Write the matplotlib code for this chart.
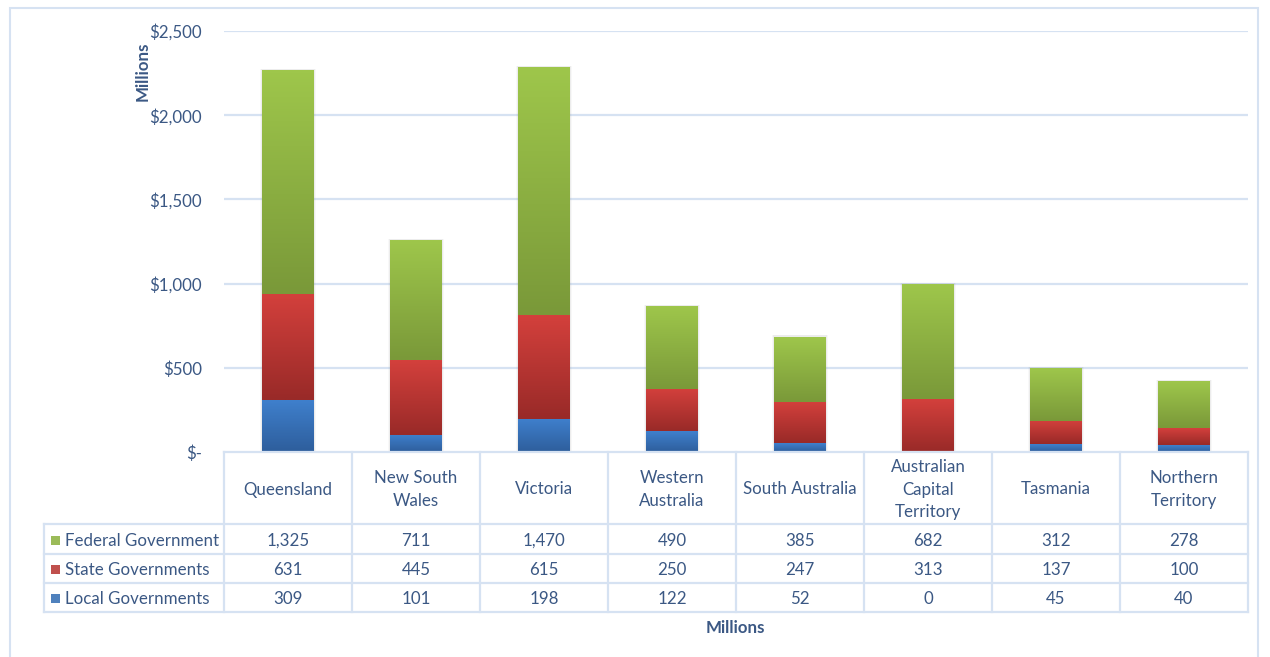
import numpy as np
import matplotlib
matplotlib.use("Agg")
import matplotlib.pyplot as plt
from matplotlib.colors import LinearSegmentedColormap
from matplotlib.patches import Rectangle

plt.rcParams['font.family'] = ['Lato', 'DejaVu Sans']

# data
categories = ["Queensland", "New South Wales", "Victoria", "Western Australia",
              "South Australia", "Australian Capital Territory", "Tasmania",
              "Northern Territory"]
header_labels = ["Queensland", "New South\nWales", "Victoria", "Western\nAustralia",
                 "South Australia", "Australian\nCapital\nTerritory", "Tasmania",
                 "Northern\nTerritory"]
series_names = ["Federal Government", "State Governments", "Local Governments"]
federal = [1325, 711, 1470, 490, 385, 682, 312, 278]
state = [631, 445, 615, 250, 247, 313, 137, 100]
local = [309, 101, 198, 122, 52, 0, 45, 40]
y_ticks = [0, 500, 1000, 1500, 2000, 2500]
y_tick_labels = ["$-", "$500", "$1,000", "$1,500", "$2,000", "$2,500"]

TEXT = '#3B5884'
GRID = '#D6E2F2'
FS = 12.2
# (top colour, bottom colour) of each segment gradient
grad = {
    "Local Governments": ('#3F80CD', '#2E5E9C'),
    "State Governments": ('#D3403C', '#992A28'),
    "Federal Government": ('#9EC64B', '#7A9939'),
}
swatch = {"Federal Government": '#9BBB59', "State Governments": '#C0504D',
          "Local Governments": '#4F81BD'}

W, H = 1270, 657
fig = plt.figure(figsize=(W / 100, H / 100), dpi=100)

# outer chart border
fig.patches.append(Rectangle((10 / W, -0.01), 1248 / W, (H - 8) / H + 0.01,
                             transform=fig.transFigure, fill=False,
                             edgecolor=GRID, linewidth=1.5))

ax = fig.add_axes([224 / W, (H - 452) / H, 1024 / W, 421 / H])
ax.set_xlim(-0.5, len(categories) - 0.5)
ax.set_ylim(0, 2500)
for s in ax.spines.values():
    s.set_visible(False)
ax.set_xticks([])
ax.set_yticks(y_ticks)
ax.set_yticklabels(y_tick_labels, color=TEXT, fontsize=FS)
ax.tick_params(axis='y', length=0, pad=16)
for t in y_ticks[1:]:
    ax.axhline(t, color=GRID, linewidth=1.6, zorder=0)


def gradient_bar(x, bottom, height, width, c_top, c_bot):
    if height <= 0:
        return
    cmap = LinearSegmentedColormap.from_list('g', [c_bot, c_top])
    img = np.linspace(0, 1, 64).reshape(-1, 1)
    ax.imshow(img, cmap=cmap, origin='lower', aspect='auto',
              extent=[x - width / 2, x + width / 2, bottom, bottom + height],
              zorder=3, interpolation='bilinear')


bw = 0.4
x = np.arange(len(categories))
for i in x:
    total = local[i] + state[i] + federal[i]
    # soft shadow
    for k, a in [(0.012, 0.10), (0.022, 0.05)]:
        ax.add_patch(Rectangle((i - bw / 2 - k, 0), bw + 2 * k, total + 8,
                               facecolor='#808080', alpha=a, edgecolor='none',
                               zorder=2))
    bottom = 0
    for name, vals in [("Local Governments", local),
                       ("State Governments", state),
                       ("Federal Government", federal)]:
        gradient_bar(i, bottom, vals[i], bw, *grad[name])
        bottom += vals[i]
ax.set_xlim(-0.5, len(categories) - 0.5)
ax.set_ylim(0, 2500)

fig.text(143 / W, 1 - 71 / H, "Millions", rotation=90, ha='center', va='center',
         color=TEXT, fontsize=FS, fontweight='bold')

# data table
tax = fig.add_axes([0, 0, 1, 1])
tax.set_xlim(0, W)
tax.set_ylim(H, 0)
tax.axis('off')

col_w = 1024 / len(categories)
left, right = 224, 1248
row_y = [452, 524, 554, 583, 612]
lw = 1.6
tax.plot([left, right], [row_y[0]] * 2, color=GRID, lw=lw)
for y in row_y[1:]:
    tax.plot([44, right], [y, y], color=GRID, lw=lw)
for j in range(len(categories) + 1):
    xx = left + j * col_w
    tax.plot([xx, xx], [row_y[0], row_y[-1]], color=GRID, lw=lw)
tax.plot([44, 44], [row_y[1], row_y[-1]], color=GRID, lw=lw)

for j, lab in enumerate(header_labels):
    tax.text(left + (j + 0.5) * col_w, (row_y[0] + row_y[1]) / 2 + 1.5, lab,
             ha='center', va='center', color=TEXT, fontsize=FS,
             linespacing=1.5)

for r, (name, vals) in enumerate([("Federal Government", federal),
                                   ("State Governments", state),
                                   ("Local Governments", local)]):
    yc = (row_y[r + 1] + row_y[r + 2]) / 2 + 1.5
    tax.add_patch(Rectangle((51, yc - 5), 9, 9, facecolor=swatch[name],
                            edgecolor='none'))
    tax.text(65, yc, name, ha='left', va='center', color=TEXT, fontsize=FS)
    for j, v in enumerate(vals):
        tax.text(left + (j + 0.5) * col_w, yc, f"{v:,}", ha='center',
                 va='center', color=TEXT, fontsize=FS)

tax.text(735, 628, "Millions", ha='center', va='center', color=TEXT,
         fontsize=FS, fontweight='bold')

fig.savefig("out.png", dpi=100)
